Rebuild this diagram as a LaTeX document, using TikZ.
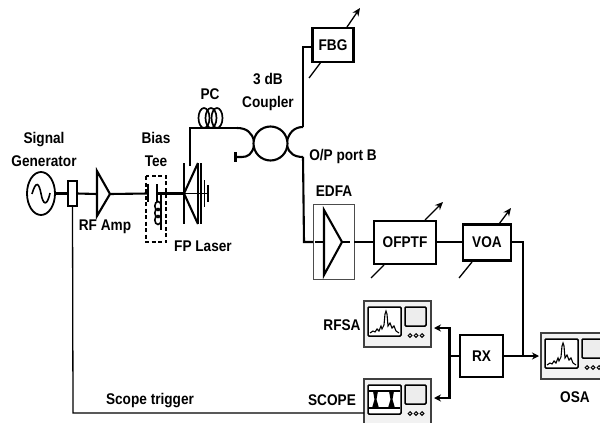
\documentclass[tikz,border=0pt]{standalone}
\usepackage{fontspec}
\setmainfont{Liberation Sans}[FakeStretch=0.88]
\usetikzlibrary{arrows.meta,shapes.geometric}

\tikzset{
  fiber/.style={line width=2.1pt},
  thinline/.style={line width=1.3pt},
  block/.style={draw, line width=2.3pt, inner sep=0pt, outer sep=0pt, font=\bfseries\fontsize{15.5}{17}\selectfont},
  lbl/.style={inner sep=0pt, align=center, font=\bfseries\fontsize{15.5}{23}\selectfont},
  tune/.style={line width=1.3pt},
  tunearrow/.style={line width=1.3pt, -{Stealth[length=8pt,width=7pt]}},
  pics/analyzer/.style={code={
    \draw[draw=black!75, line width=1.5pt, fill=black!5] (0,0) rectangle (67,46);
    \draw[line width=1.5pt, rounded corners=1pt, fill=white] (4,6) rectangle (37,35);
    \draw[line width=1.5pt, rounded corners=1pt, fill=black!7] (41,6) rectangle (62,25);
    \foreach \kx in {46,52,58} \draw[line width=1pt, fill=white] (\kx,34.5) circle (1.8pt);
  }},
  pics/spectrum/.style={code={
    \draw[line width=1.1pt] (6,32) -- (9,30) -- (11,31) -- (13,28) -- (15,30) -- (17,25) -- (18,28) -- (20,24) -- (21,13) -- (22,10) -- (23,13) -- (24,25) -- (26,22) -- (28,27) -- (30,25) -- (32,30) -- (35,32);
  }},
  pics/eye/.style={code={
    \draw[line width=1.8pt] (5,12) -- (36,12) (5,29) -- (36,29);
    \fill (9,12) -- (14,12) -- (12.5,20.5) -- (15,29) -- (8,29) -- (10.5,20.5) -- cycle;
    \fill (25,12) -- (30,12) -- (28.5,20.5) -- (31,29) -- (24,29) -- (26.5,20.5) -- cycle;
  }},
}

\begin{document}
\begin{tikzpicture}[x=1pt, y=-1pt]

\useasboundingbox (0,0) rectangle (600,423);
\clip (0,0) rectangle (600,423);

% source side
\node[draw, ellipse, line width=1.8pt, minimum width=28pt, minimum height=43pt, inner sep=0pt, outer sep=0pt] (SG) at (41,193.5) {};
\draw[line width=1.6pt] (32,194) .. controls (36,180) and (39,183) .. (41,193.5) .. controls (43,205) and (47,207) .. (50,193);
\node[draw, fill=white, line width=1.8pt, minimum width=9pt, minimum height=25pt, inner sep=0pt, outer sep=0pt] (TAP) at (72.5,193.5) {};

\coordinate (A1) at (97,171);
\coordinate (A2) at (97,216);
\coordinate (A3) at (110,194);
\coordinate (A4) at (97,194);
\coordinate (C1) at (148,193.5);
\coordinate (C2) at (157,193.5);
\coordinate (L1) at (184,193.5);
\coordinate (TR) at (73,413);
\coordinate (TS) at (364,413);

\draw[fiber] (SG.east) -- (TAP.west);
\draw[fiber] (TAP.east) -- (A4);
\draw[fiber] (A1) -- (A3) -- (A2) -- cycle;
\draw[fiber] (A3) -- (C1);
\draw[fiber] (C2) -- (L1);

% bias tee
\draw[line width=1.8pt] (148,184) -- (148,202);
\draw[line width=1.8pt] (157,184) -- (157,202);
\draw[line width=1.6pt, dashed, dash pattern=on 4pt off 2.5pt] (146,176) rectangle (166,242);
\draw[fiber] (161,193.5) -- (161,230);
\foreach \ly in {206,213,220}
  \draw[line width=1.6pt] (158,\ly) ellipse [x radius=3.2pt, y radius=4.5pt];

% laser
\draw[fiber] (184,163) -- (184,224);
\draw[fiber] (198,163) -- (184,193.5) -- (198,224);
\draw[line width=1.6pt] (184,193.5) -- (208,193.5);
\draw[line width=2pt] (197.5,163) -- (197.5,224);
\draw[line width=2pt] (200.5,163) -- (200.5,224);
\draw[line width=1.8pt] (204.5,180) -- (204.5,207);
\draw[line width=1.8pt] (208,185) -- (208,202);

% fiber to coupler
\coordinate (F1) at (190,166);
\coordinate (F2) at (190,128);
\coordinate (F3) at (237,128);
\draw[fiber] (F1) -- (F2) -- (F3);
\foreach \px in {204,211,217}
  \draw[line width=1.7pt] (\px,118) ellipse [x radius=5.5pt, y radius=10pt];

% coupler
\node[draw, circle, line width=2.1pt, minimum size=34pt, inner sep=0pt, outer sep=0pt] (CP) at (270.5,143.5) {};
\coordinate (T1) at (235.5,157);
\coordinate (P1) at (303,127);
\coordinate (P2) at (303,157);
\draw[fiber] (F3) .. controls (247,128) and (252,133) .. (254,141);
\draw[fiber] (T1) -- (242,157) .. controls (248,157) and (252,154) .. (254,146);
\draw[fiber] (235.5,152) -- (235.5,162);
\draw[fiber] (P1) .. controls (294,127) and (289,133) .. (287,141);
\draw[fiber] (P2) .. controls (294,157) and (289,153) .. (287,146);

% upper branch
\node[block, minimum width=41pt, minimum height=34pt] (FBG) at (333,45) {FBG};
\coordinate (P3) at (303,47);
\draw[fiber] (P1) -- (P3) -- (FBG.west |- P3);
\draw[tune] (309,78) -- (321,62);
\draw[tunearrow] (347,27) -- (360,8);

% lower branch
\coordinate (P4) at (304,242);
\node[draw=black!70, line width=1pt, minimum width=41pt, minimum height=75pt, inner sep=0pt, outer sep=0pt] (EDFA) at (333.5,241.5) {};
\node[block, minimum width=62pt, minimum height=43pt] (OFPTF) at (405,242.5) {OFPTF};
\node[block, minimum width=48pt, minimum height=36pt] (VOA) at (487,242.5) {VOA};
\coordinate (E1) at (324,210);
\coordinate (E2) at (324,275);
\coordinate (E3) at (342,242);
\draw[fiber] (P2) -- (P4) -- (EDFA.west |- P4);
\draw[fiber] (315,242) -- (E1 |- P4);
\draw[fiber] (E1) -- (E3) -- (E2) -- cycle;
\draw[fiber] (E3) -- (350,242);
\draw[fiber] (EDFA.east |- P4) -- (OFPTF.west |- P4);
\draw[fiber] (OFPTF.east |- P4) -- (VOA.west |- P4);

\draw[tune] (371,278) -- (384,265);
\draw[tunearrow] (425,220) -- (443,202);
\draw[tune] (459,278) -- (472,262);
\draw[tunearrow] (499,224) -- (511,208);

% receiver and instruments
\node[block, minimum width=43pt, minimum height=42pt] (RX) at (481.5,356) {RX};
\coordinate (V1) at (523,242);
\coordinate (V2) at (523,356);
\coordinate (BUS) at (449.5,356);
\coordinate (BT) at (449.5,328);
\coordinate (BB) at (449.5,398);
\coordinate (RF) at (434,328);
\coordinate (SC) at (434,398);
\coordinate (OS) at (539,356);

\draw[fiber] (VOA.east |- V1) -- (V1) -- (V2);
\draw[fiber] (RX.east) -- (V2);
\draw[line width=1.3pt, -{Stealth[length=7pt,width=7pt]}] (V2) -- (OS);
\draw[fiber] (RX.west) -- (BUS);
\draw[fiber, -{Stealth[length=7pt,width=7pt]}] (BUS) -- (BT) -- (RF);
\draw[fiber, -{Stealth[length=7pt,width=7pt]}] (BUS) -- (BB) -- (SC);

\pic at (364,301) {analyzer};
\pic at (364,301) {spectrum};
\pic at (541,333) {analyzer};
\pic at (541,333) {spectrum};
\pic at (364,379) {analyzer};
\pic at (364,379) {eye};

% scope trigger
\draw[thinline] (TAP.south) -- (TR) -- (TS);

% labels
\node[lbl] (tSG) at (44,149.5) {Signal\\Generator};
\node[lbl] (tRF) at (105,227) {RF Amp};
\node[lbl] (tBT) at (156,149.5) {Bias\\Tee};
\node[lbl] (tFP) at (203,246) {FP Laser};
\node[lbl] (tPC) at (210,94) {PC};
\node[lbl] (tCP) at (268,91.5) {3 dB\\Coupler};
\node[lbl] (tPB) at (343,156) {O/P port B};
\node[lbl] (tED) at (334,191) {EDFA};
\node[lbl] (tRS) at (342,325) {RFSA};
\node[lbl] (tSC) at (332,400) {SCOPE};
\node[lbl] (tOS) at (575,397) {OSA};
\node[lbl] (tTR) at (150,401) {Scope trigger};

\end{tikzpicture}
\end{document}
